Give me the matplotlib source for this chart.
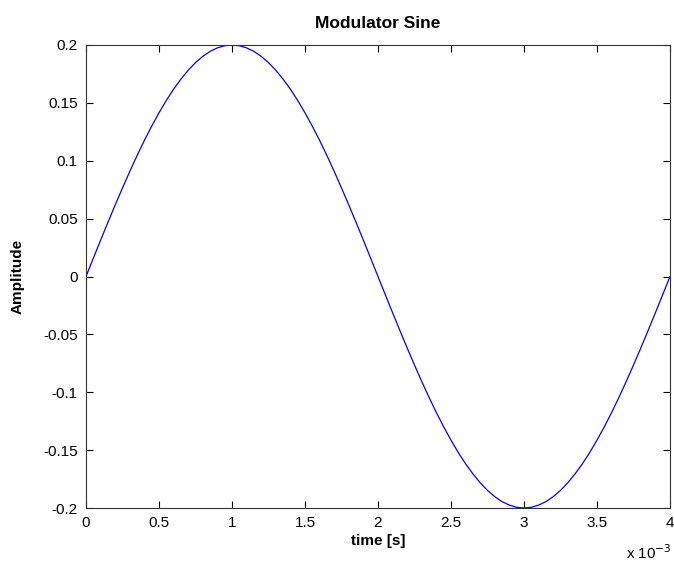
import matplotlib
matplotlib.use('Agg')
import matplotlib.pyplot as plt

# time in ms (axis shows x 10^-3 s), sampled every 0.05 ms
time_ms = [0.0, 0.05, 0.1, 0.15, 0.2, 0.25, 0.3, 0.35, 0.4, 0.45,
           0.5, 0.55, 0.6, 0.65, 0.7, 0.75, 0.8, 0.85, 0.9, 0.95,
           1.0, 1.05, 1.1, 1.15, 1.2, 1.25, 1.3, 1.35, 1.4, 1.45,
           1.5, 1.55, 1.6, 1.65, 1.7, 1.75, 1.8, 1.85, 1.9, 1.95,
           2.0, 2.05, 2.1, 2.15, 2.2, 2.25, 2.3, 2.35, 2.4, 2.45,
           2.5, 2.55, 2.6, 2.65, 2.7, 2.75, 2.8, 2.85, 2.9, 2.95,
           3.0, 3.05, 3.1, 3.15, 3.2, 3.25, 3.3, 3.35, 3.4, 3.45,
           3.5, 3.55, 3.6, 3.65, 3.7, 3.75, 3.8, 3.85, 3.9, 3.95, 4.0]
amplitude = [0.0, 0.0157, 0.0313, 0.0467, 0.0618, 0.0765, 0.0908, 0.1045, 0.1176, 0.1299,
             0.1414, 0.1521, 0.1618, 0.1705, 0.1782, 0.1848, 0.1902, 0.1945, 0.1975, 0.1994,
             0.2, 0.1994, 0.1975, 0.1945, 0.1902, 0.1848, 0.1782, 0.1705, 0.1618, 0.1521,
             0.1414, 0.1299, 0.1176, 0.1045, 0.0908, 0.0765, 0.0618, 0.0467, 0.0313, 0.0157,
             0.0, -0.0157, -0.0313, -0.0467, -0.0618, -0.0765, -0.0908, -0.1045, -0.1176, -0.1299,
             -0.1414, -0.1521, -0.1618, -0.1705, -0.1782, -0.1848, -0.1902, -0.1945, -0.1975, -0.1994,
             -0.2, -0.1994, -0.1975, -0.1945, -0.1902, -0.1848, -0.1782, -0.1705, -0.1618, -0.1521,
             -0.1414, -0.1299, -0.1176, -0.1045, -0.0908, -0.0765, -0.0618, -0.0467, -0.0313, -0.0157, 0.0]
x_ticks = [0, 0.5, 1, 1.5, 2, 2.5, 3, 3.5, 4]
x_labels = ['0', '0.5', '1', '1.5', '2', '2.5', '3', '3.5', '4']
y_ticks = [-0.2, -0.15, -0.1, -0.05, 0, 0.05, 0.1, 0.15, 0.2]
y_labels = ['-0.2', '-0.15', '-0.1', '-0.05', '0', '0.05', '0.1', '0.15', '0.2']

plt.rcParams['font.family'] = ['Liberation Sans', 'DejaVu Sans']

fig = plt.figure(figsize=(6.74, 5.63), dpi=100)
ax = fig.add_axes([86/674, 1 - 508/563, (670 - 86)/674, (508 - 45)/563])

ax.plot(time_ms, amplitude, color=(0, 0, 1), linewidth=0.9)

ax.set_xlim(0, 4)
ax.set_ylim(-0.2, 0.2)
ax.set_xticks(x_ticks)
ax.set_xticklabels(x_labels)
ax.set_yticks(y_ticks)
ax.set_yticklabels(y_labels)
ax.tick_params(direction='in', top=True, right=True, labelsize=11, length=5, width=0.8, pad=6)
for s in ax.spines.values():
    s.set_linewidth(0.8)
    s.set_color('#333333')

ax.set_title('Modulator Sine', fontsize=12.5, fontweight='bold', pad=12)
ax.set_xlabel('time [s]', fontsize=11, fontweight='bold', labelpad=3)
ax.set_ylabel('Amplitude', fontsize=11, fontweight='bold', labelpad=13)
fig.text(626/674, 1 - 553/563, r'x 10$^{-3}$', fontsize=11, va='center', ha='left')

fig.savefig('out.png', dpi=100)
